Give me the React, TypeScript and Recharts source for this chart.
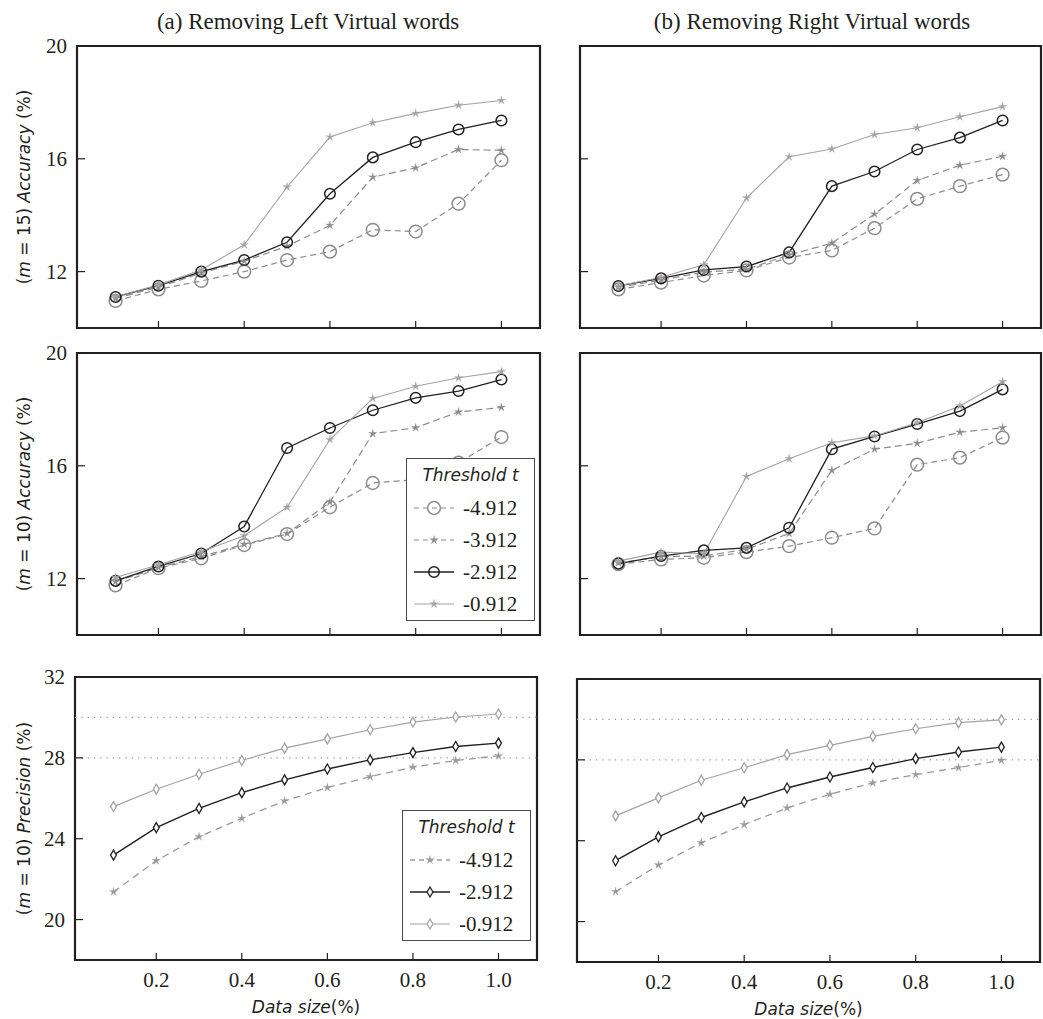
import React from 'react';
import { LineChart, Line, XAxis, YAxis, ReferenceArea, ReferenceLine, Legend } from 'recharts';

// x positions (fraction of the data used)
const dataSize = [0.1, 0.2, 0.3, 0.4, 0.5, 0.6, 0.7, 0.8, 0.9, 1.0];

// (a) removing left virtual words, m = 15, accuracy
const left15_4912 = [10.96, 11.37, 11.67, 12.0, 12.41, 12.71, 13.48, 13.42, 14.41, 15.95];
const left15_3912 = [11.05, 11.45, 11.95, 12.37, 12.9, 13.64, 15.35, 15.68, 16.33, 16.3];
const left15_2912 = [11.1, 11.5, 12.0, 12.41, 13.04, 14.76, 16.05, 16.59, 17.04, 17.36];
const left15_0912 = [11.11, 11.53, 12.06, 12.95, 15.0, 16.77, 17.28, 17.61, 17.9, 18.07];

// (b) removing right virtual words, m = 15, accuracy
const right15_4912 = [11.37, 11.61, 11.86, 12.04, 12.5, 12.75, 13.54, 14.58, 15.03, 15.44];
const right15_3912 = [11.44, 11.7, 11.98, 12.08, 12.59, 13.01, 14.04, 15.23, 15.77, 16.09];
const right15_2912 = [11.49, 11.76, 12.06, 12.18, 12.68, 15.03, 15.55, 16.33, 16.75, 17.36];
const right15_0912 = [11.49, 11.8, 12.24, 14.61, 16.07, 16.35, 16.86, 17.1, 17.49, 17.85];

// m = 10, accuracy
const left10_4912 = [11.76, 12.37, 12.72, 13.19, 13.58, 14.53, 15.39, 15.51, 16.11, 17.02];
const left10_3912 = [11.89, 12.39, 12.78, 13.22, 13.6, 14.71, 17.14, 17.35, 17.91, 18.07];
const left10_2912 = [11.92, 12.43, 12.89, 13.85, 16.63, 17.34, 17.97, 18.41, 18.65, 19.06];
const left10_0912 = [12.04, 12.49, 12.96, 13.52, 14.53, 16.93, 18.39, 18.82, 19.12, 19.34];

const right10_4912 = [12.51, 12.68, 12.74, 12.94, 13.15, 13.45, 13.78, 16.04, 16.29, 17.0];
const right10_3912 = [12.56, 12.78, 12.8, 13.04, 13.6, 15.84, 16.59, 16.8, 17.19, 17.35];
const right10_2912 = [12.53, 12.8, 13.0, 13.09, 13.8, 16.59, 17.04, 17.48, 17.94, 18.71];
const right10_0912 = [12.62, 12.94, 12.88, 15.62, 16.25, 16.82, 17.06, 17.53, 18.12, 18.98];

// m = 10, precision
const precLeft_4912 = [21.37, 22.91, 24.1, 25.01, 25.87, 26.53, 27.07, 27.54, 27.87, 28.1];
const precLeft_2912 = [23.19, 24.55, 25.5, 26.28, 26.91, 27.45, 27.9, 28.26, 28.56, 28.73];
const precLeft_0912 = [25.59, 26.45, 27.19, 27.87, 28.48, 28.94, 29.39, 29.77, 30.02, 30.17];

const precRight_4912 = [21.48, 22.8, 23.9, 24.8, 25.62, 26.3, 26.86, 27.27, 27.62, 27.98];
const precRight_2912 = [23.01, 24.19, 25.15, 25.92, 26.61, 27.15, 27.62, 28.06, 28.39, 28.63];
const precRight_0912 = [25.23, 26.12, 26.99, 27.61, 28.26, 28.72, 29.16, 29.54, 29.84, 29.98];

const xTicks = [0.2, 0.4, 0.6, 0.8, 1.0];
const accTicks = [12, 16, 20];
const precTicks = [20, 24, 28, 32];
const precGuides = [28, 30];
const accNames = ['-4.912', '-3.912', '-2.912', '-0.912'];
const precNames = ['-4.912', '-2.912', '-0.912'];
const titles = ['(a) Removing Left Virtual words', '(b) Removing Right Virtual words'];

const INK = '#231f20';
const SERIF = '"Liberation Serif", "Times New Roman", serif';
const SANS = '"DejaVu Sans", sans-serif';
const X_DOMAIN: [number, number] = [0.01, 1.09];
const ACC_DOMAIN: [number, number] = [10, 20];
const PREC_DOMAIN: [number, number] = [18, 32];
const PAD = 22;

type MarkerKind = 'circle' | 'star' | 'diamond';
interface SeriesStyle { color: string; dash?: string; marker: MarkerKind; width: number; r: number }

const accStyles: SeriesStyle[] = [
  { color: '#8c8c8c', dash: '6 4', marker: 'circle', width: 1.2, r: 6.4 },
  { color: '#8c8c8c', dash: '7 4', marker: 'star', width: 1.2, r: 4.5 },
  { color: INK, marker: 'circle', width: 1.3, r: 5.3 },
  { color: '#a3a3a3', marker: 'star', width: 1.1, r: 4.5 },
];
const precStyles: SeriesStyle[] = [
  { color: '#9a9a9a', dash: '7 5', marker: 'star', width: 1.3, r: 4.5 },
  { color: INK, marker: 'diamond', width: 1.4, r: 5 },
  { color: '#a3a3a3', marker: 'diamond', width: 1.2, r: 5 },
];

const Marker = ({ kind, cx, cy, color, r }: { kind: MarkerKind; cx: number; cy: number; color: string; r: number }) => {
  if (kind === 'circle') {
    return <circle cx={cx} cy={cy} r={r} fill="none" stroke={color} strokeWidth={1.5} />;
  }
  if (kind === 'diamond') {
    const pts = `${cx},${cy - r} ${cx + r * 0.58},${cy} ${cx},${cy + r} ${cx - r * 0.58},${cy}`;
    return <polygon points={pts} fill="#fff" stroke={color} strokeWidth={1.3} />;
  }
  // thin asterisk-like star
  const pts: string[] = [];
  for (let k = 0; k < 10; k++) {
    const a = -Math.PI / 2 + (k * Math.PI) / 5;
    const rr = k % 2 === 0 ? r : r * 0.32;
    pts.push(`${cx + rr * Math.cos(a)},${cy + rr * Math.sin(a)}`);
  }
  return <polygon points={pts.join(' ')} fill={color} stroke={color} strokeWidth={0.3} />;
};

const toRows = (series: number[][]) =>
  dataSize.map((x, i) => {
    const row: Record<string, number> = { x };
    series.forEach((s, k) => (row['s' + k] = s[i]));
    return row;
  });

const makeXTick = (showLabel: boolean) => (props: any) => {
  const { x, y, payload } = props;
  return (
    <g>
      <line x1={x} y1={y} x2={x} y2={y - 7} stroke={INK} strokeWidth={1.2} />
      {showLabel && (
        <text x={x} y={y + 27} textAnchor="middle" fontFamily={SERIF} fontSize={21} fill={INK}>
          {Number(payload.value).toFixed(1)}
        </text>
      )}
    </g>
  );
};

const makeYTick = (showLabel: boolean) => (props: any) => {
  const { x, y, payload } = props;
  return (
    <g>
      <line x1={x} y1={y} x2={x + 8} y2={y} stroke={INK} strokeWidth={1.2} />
      {showLabel && (
        <text x={x - 10} y={y + 7} textAnchor="end" fontFamily={SERIF} fontSize={21} fill={INK}>
          {payload.value}
        </text>
      )}
    </g>
  );
};

const LegendBox = ({ names, styles }: { names: string[]; styles: SeriesStyle[] }) => (
  <div style={{ border: '1.6px solid #4a4a4a', background: '#fff', boxSizing: 'border-box' }}>
    <div style={{ fontFamily: SANS, fontStyle: 'italic', fontSize: 17, lineHeight: '30px', height: 32, paddingTop: 1, textAlign: 'center', color: INK }}>
      Threshold t
    </div>
    {names.map((n, i) => (
      <div key={n} style={{ display: 'flex', alignItems: 'center', height: 32 }}>
        <svg width={40} height={20} style={{ marginLeft: 7 }}>
          <line x1={0} y1={10} x2={40} y2={10} stroke={styles[i].color} strokeWidth={styles[i].width} strokeDasharray={styles[i].dash ? '5 4' : undefined} />
          <Marker kind={styles[i].marker} cx={20} cy={10} color={styles[i].color} r={styles[i].r} />
        </svg>
        <span style={{ marginLeft: 9, fontFamily: SERIF, fontSize: 21, color: INK }}>{n}</span>
      </div>
    ))}
  </div>
);

interface PanelProps {
  box: { x: number; y: number; w: number; h: number };
  axisW: number;
  axisH: number;
  padR: number;
  series: number[][];
  styles: SeriesStyle[];
  names: string[];
  yDomain: [number, number];
  yTicks: number[];
  yLabels: boolean;
  xLabels: boolean;
  yTitle?: { m: number; metric: string };
  guides?: number[];
  legend?: { left: number; top: number; width: number };
}

const Panel = (p: PanelProps) => {
  const rows = toRows(p.series);
  const width = p.axisW + p.box.w + p.padR;
  const height = PAD + p.box.h + p.axisH;
  const yTitle = p.yTitle;
  const yTitleContent = () => {
    if (!yTitle) return null;
    const cx = 24;
    const cy = PAD + p.box.h / 2;
    return (
      <text x={cx} y={cy} transform={`rotate(-90 ${cx} ${cy})`} textAnchor="middle" dominantBaseline="central" fontFamily={SANS} fontSize={17} fill={INK}>
        {'('}<tspan fontStyle="italic">m</tspan>{` = ${yTitle.m}) `}<tspan fontStyle="italic">{yTitle.metric}</tspan>{' (%)'}
      </text>
    );
  };
  const xTitleContent = () => {
    if (!p.xLabels) return null;
    const cx = p.axisW + p.box.w / 2;
    const cy = PAD + p.box.h + 47;
    return (
      <text x={cx} y={cy} textAnchor="middle" dominantBaseline="central" fontFamily={SANS} fontSize={17} fill={INK}>
        <tspan fontStyle="italic">Data size</tspan>(%)
      </text>
    );
  };
  return (
    <div style={{ position: 'absolute', left: p.box.x - p.axisW, top: p.box.y - PAD, width, height }}>
      <LineChart width={width} height={height} data={rows} margin={{ top: PAD, right: p.padR, left: 0, bottom: 0 }}>
        <XAxis
          type="number"
          dataKey="x"
          domain={X_DOMAIN}
          ticks={xTicks}
          interval={0}
          allowDataOverflow
          axisLine={false}
          tickLine={false}
          tickSize={0}
          tickMargin={0}
          height={p.axisH}
          tick={makeXTick(p.xLabels)}
          label={xTitleContent}
        />
        <YAxis
          type="number"
          domain={p.yDomain}
          ticks={p.yTicks}
          interval={0}
          allowDataOverflow
          axisLine={false}
          tickLine={false}
          tickSize={0}
          tickMargin={0}
          width={p.axisW}
          tick={makeYTick(p.yLabels)}
          label={yTitleContent}
        />
        {(p.guides || []).map((g) => (
          <ReferenceLine key={g} y={g} stroke="#9a9a9a" strokeWidth={1.3} strokeDasharray="1.3 5" />
        ))}
        {p.styles.map((s, k) => (
          <Line
            key={k}
            type="linear"
            dataKey={'s' + k}
            name={p.names[k]}
            stroke={s.color}
            strokeWidth={s.width}
            strokeDasharray={s.dash}
            isAnimationActive={false}
            activeDot={false}
            dot={(d: any) => <Marker key={`${k}-${d.index}`} kind={s.marker} cx={d.cx} cy={d.cy} color={s.color} r={s.r} />}
          />
        ))}
        <ReferenceArea x1={X_DOMAIN[0]} x2={X_DOMAIN[1]} y1={p.yDomain[0]} y2={p.yDomain[1]} fill="none" fillOpacity={0} stroke={INK} strokeWidth={2.2} ifOverflow="visible" />
        {p.legend && (
          <Legend
            layout="vertical"
            align="center"
            verticalAlign="middle"
            width={p.legend.width}
            wrapperStyle={{ left: p.legend.left, top: p.legend.top, width: p.legend.width }}
            content={() => <LegendBox names={p.names} styles={p.styles} />}
          />
        )}
      </LineChart>
    </div>
  );
}

export default function App() {
  return (
    <div style={{ position: 'absolute', left: 0, top: 0, width: 1043, height: 1019, overflow: 'hidden', background: '#fff', fontFamily: SERIF }}>
      <svg width={1043} height={40} style={{ position: 'absolute', left: 0, top: 0 }}>
        <text x={308} y={29} textAnchor="middle" fontFamily={SERIF} fontSize={23} fill={INK}>{titles[0]}</text>
        <text x={812} y={29} textAnchor="middle" fontFamily={SERIF} fontSize={23} fill={INK}>{titles[1]}</text>
      </svg>
      <Panel
        box={{ x: 77, y: 46, w: 463, h: 282 }} axisW={77} axisH={12} padR={10}
        series={[left15_4912, left15_3912, left15_2912, left15_0912]} styles={accStyles} names={accNames}
        yDomain={ACC_DOMAIN} yTicks={accTicks} yLabels xLabels={false} yTitle={{ m: 15, metric: 'Accuracy' }}
      />
      <Panel
        box={{ x: 580, y: 46, w: 461, h: 282 }} axisW={40} axisH={12} padR={2}
        series={[right15_4912, right15_3912, right15_2912, right15_0912]} styles={accStyles} names={accNames}
        yDomain={ACC_DOMAIN} yTicks={accTicks} yLabels={false} xLabels={false}
      />
      <Panel
        box={{ x: 77, y: 353, w: 463, h: 282 }} axisW={77} axisH={12} padR={10}
        series={[left10_4912, left10_3912, left10_2912, left10_0912]} styles={accStyles} names={accNames}
        yDomain={ACC_DOMAIN} yTicks={accTicks} yLabels xLabels={false} yTitle={{ m: 10, metric: 'Accuracy' }}
        legend={{ left: 406, top: 458 - 353 + PAD, width: 129 }}
      />
      <Panel
        box={{ x: 580, y: 353, w: 461, h: 282 }} axisW={40} axisH={12} padR={2}
        series={[right10_4912, right10_3912, right10_2912, right10_0912]} styles={accStyles} names={accNames}
        yDomain={ACC_DOMAIN} yTicks={accTicks} yLabels={false} xLabels={false}
      />
      <Panel
        box={{ x: 75, y: 677, w: 462, h: 283 }} axisW={75} axisH={59} padR={10}
        series={[precLeft_4912, precLeft_2912, precLeft_0912]} styles={precStyles} names={precNames}
        yDomain={PREC_DOMAIN} yTicks={precTicks} yLabels xLabels yTitle={{ m: 10, metric: 'Precision' }}
        guides={precGuides} legend={{ left: 402, top: 810 - 677 + PAD, width: 129 }}
      />
      <Panel
        box={{ x: 577, y: 679, w: 463, h: 283 }} axisW={37} axisH={57} padR={3}
        series={[precRight_4912, precRight_2912, precRight_0912]} styles={precStyles} names={precNames}
        yDomain={PREC_DOMAIN} yTicks={precTicks} yLabels={false} xLabels
        guides={precGuides}
      />
    </div>
  );
}
